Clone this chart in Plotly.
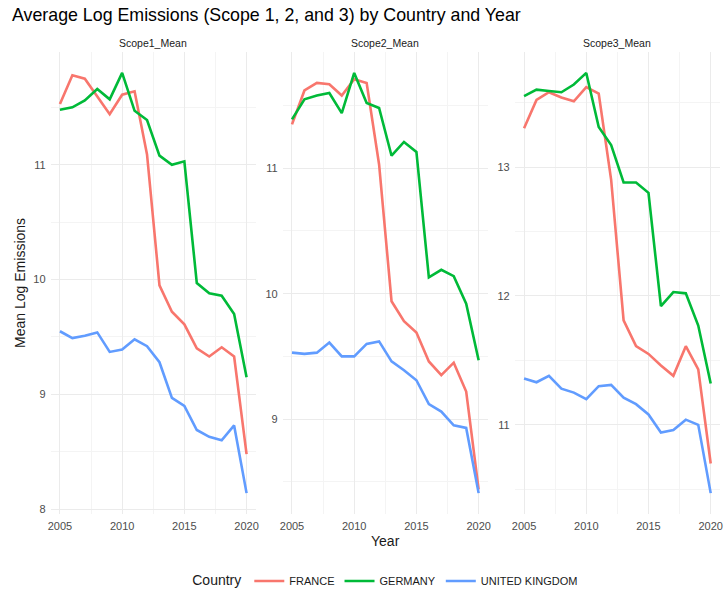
import plotly.graph_objects as go

# Mean log emissions by country and year, one panel per scope
years = list(range(2005, 2021))
countries = ["FRANCE", "GERMANY", "UNITED KINGDOM"]
colors = ["#F8766D", "#00BA38", "#619CFF"]
panel_titles = ["Scope1_Mean", "Scope2_Mean", "Scope3_Mean"]

scope1_france = [11.53, 11.78, 11.75, 11.60, 11.44, 11.61, 11.64, 11.09, 9.95, 9.72,
                 9.61, 9.40, 9.33, 9.41, 9.33, 8.48]
scope1_germany = [11.48, 11.50, 11.56, 11.66, 11.57, 11.80, 11.47, 11.39, 11.08, 11.00,
                  11.03, 9.97, 9.88, 9.86, 9.70, 9.15]
scope1_uk = [9.55, 9.49, 9.51, 9.54, 9.37, 9.39, 9.48, 9.42, 9.28, 8.97,
             8.90, 8.69, 8.63, 8.60, 8.73, 8.14]

scope2_france = [11.35, 11.62, 11.68, 11.67, 11.58, 11.71, 11.68, 11.03, 9.94, 9.78,
                 9.69, 9.46, 9.35, 9.45, 9.22, 8.44]
scope2_germany = [11.39, 11.55, 11.58, 11.60, 11.44, 11.76, 11.52, 11.48, 11.10, 11.21,
                  11.13, 10.13, 10.19, 10.14, 9.92, 9.47]
scope2_uk = [9.53, 9.52, 9.53, 9.61, 9.50, 9.50, 9.60, 9.62, 9.46, 9.39,
             9.31, 9.12, 9.06, 8.95, 8.93, 8.41]

scope3_france = [13.30, 13.52, 13.58, 13.54, 13.51, 13.62, 13.57, 12.90, 11.81, 11.61,
                 11.55, 11.46, 11.38, 11.61, 11.43, 10.70]
scope3_germany = [13.55, 13.60, 13.59, 13.58, 13.64, 13.73, 13.31, 13.17, 12.88, 12.88,
                  12.80, 11.92, 12.03, 12.02, 11.77, 11.32]
scope3_uk = [11.36, 11.33, 11.38, 11.28, 11.25, 11.20, 11.30, 11.31, 11.21, 11.16,
             11.08, 10.94, 10.96, 11.04, 11.00, 10.47]

panels = [
    [scope1_france, scope1_germany, scope1_uk],
    [scope2_france, scope2_germany, scope2_uk],
    [scope3_france, scope3_germany, scope3_uk],
]

W, H = 726, 596
# plot-area pixel extents of the three facets
x_px = [(48, 255), (282, 489), (516, 723)]
y_px = (52, 515)

fig = go.Figure()

font_family = "Liberation Sans, Arial, sans-serif"
tick_font = dict(family=font_family, size=11, color="#4D4D4D")
grid_major = "#EBEBEB"
grid_minor = "#F4F4F4"

for i, series in enumerate(panels):
    xa = "x" if i == 0 else f"x{i + 1}"
    ya = "y" if i == 0 else f"y{i + 1}"
    for name, color, values in zip(countries, colors, series):
        fig.add_trace(go.Scatter(
            x=years, y=values, mode="lines", name=name,
            line=dict(color=color, width=2.6),
            xaxis=xa, yaxis=ya, showlegend=(i == 0),
            legendgroup=name,
        ))

    all_vals = [v for s in series for v in s]
    lo, hi = min(all_vals), max(all_vals)
    pad = 0.05 * (hi - lo)
    xpad = 0.05 * (years[-1] - years[0])

    x0, x1 = x_px[i]
    xkey = "xaxis" if i == 0 else f"xaxis{i + 1}"
    ykey = "yaxis" if i == 0 else f"yaxis{i + 1}"
    fig.update_layout(**{
        xkey: dict(
            domain=[x0 / W, x1 / W],
            range=[years[0] - xpad, years[-1] + xpad],
            anchor=ya,
            tickvals=[2005, 2010, 2015, 2020],
            showgrid=True, gridcolor=grid_major, gridwidth=1,
            minor=dict(tickvals=[2007.5, 2012.5, 2017.5], showgrid=True,
                       gridcolor=grid_minor, gridwidth=0.8),
            zeroline=False, showline=False, ticks="",
            tickfont=tick_font, ticklabelstandoff=4,
        ),
        ykey: dict(
            domain=[1 - y_px[1] / H, 1 - y_px[0] / H],
            range=[lo - pad, hi + pad],
            anchor=xa,
            dtick=1, tick0=0,
            showgrid=True, gridcolor=grid_major, gridwidth=1,
            minor=dict(dtick=0.5, tick0=0, showgrid=True,
                       gridcolor=grid_minor, gridwidth=0.8),
            zeroline=False, showline=False, ticks="",
            tickfont=tick_font, ticklabelstandoff=4,
        ),
    })
    # facet strip label
    fig.add_annotation(
        x=(x0 + x1) / 2 / W, y=1 - 43 / H, xref="paper", yref="paper",
        text=panel_titles[i], showarrow=False,
        font=dict(family=font_family, size=10.5, color="#1A1A1A"),
        xanchor="center", yanchor="middle",
    )

# axis titles
fig.add_annotation(
    x=(x_px[0][0] + x_px[2][1]) / 2 / W, y=1 - 542 / H, xref="paper", yref="paper",
    text="Year", showarrow=False,
    font=dict(family=font_family, size=14, color="#1A1A1A"),
    xanchor="center", yanchor="middle",
)
fig.add_annotation(
    x=17 / W, y=1 - (y_px[0] + y_px[1]) / 2 / H, xref="paper", yref="paper",
    text="Mean Log Emissions", showarrow=False, textangle=-90,
    font=dict(family=font_family, size=14, color="#1A1A1A"),
    xanchor="center", yanchor="middle",
)

fig.update_layout(
    width=W, height=H,
    margin=dict(l=0, r=0, t=0, b=0),
    paper_bgcolor="white", plot_bgcolor="white",
    title=dict(
        text="Average Log Emissions (Scope 1, 2, and 3) by Country and Year",
        x=12 / W, xanchor="left", y=1 - 15 / H, yanchor="middle",
        font=dict(family=font_family, size=17.8, color="#000000"),
    ),
    legend=dict(
        orientation="h", x=0.533, xanchor="center", y=1 - 582 / H, yanchor="middle",
        title=dict(text="Country", font=dict(family=font_family, size=14, color="#1A1A1A")),
        font=dict(family=font_family, size=11, color="#1A1A1A"),
        itemwidth=30, tracegroupgap=0,
        bgcolor="rgba(0,0,0,0)",
    ),
)

fig.write_html("out.html")
